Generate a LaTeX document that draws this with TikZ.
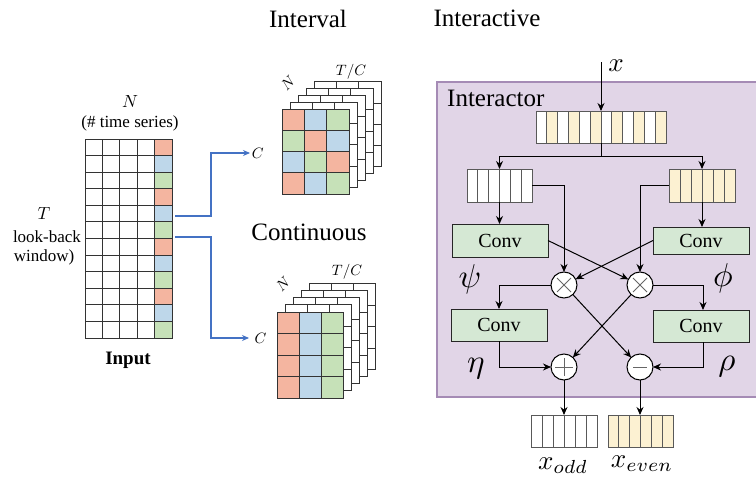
\documentclass[tikz,border=0pt]{standalone}
\usepackage{fontspec}
\setmainfont{Liberation Serif}
\usetikzlibrary{arrows.meta,calc}
\definecolor{cred}{HTML}{F4B5A0}
\definecolor{cblue}{HTML}{BED7EA}
\definecolor{cgreen}{HTML}{C6E1B8}
\definecolor{cyel}{HTML}{FCF1D2}
\definecolor{purpfill}{HTML}{E1D5E7}
\definecolor{purpline}{HTML}{A58BB5}
\definecolor{convfill}{HTML}{D5E8D4}
\definecolor{arrblue}{HTML}{4472C4}
\begin{document}
\begin{tikzpicture}[x=1pt,y=-1pt,
  cellline/.style={draw=black!80, line width=0.9pt},
  seqline/.style={draw=black!65, line width=1pt},
  arr/.style={draw=black, line width=1pt, -{Stealth[length=8pt,width=7pt]}},
  plainline/.style={draw=black, line width=1pt},
  bluearr/.style={draw=arrblue, line width=1.1pt, -{Stealth[length=7pt,width=6pt]}},
  conv/.style={draw=black!85, line width=1pt, fill=convfill, minimum width=96pt, font=\fontsize{20}{22}\selectfont, inner sep=0, outer sep=0},
  op/.style={circle, draw=black, line width=1pt, fill=white, minimum size=26pt, inner sep=0, outer sep=0},
  opsym/.style={draw=black!60, line width=0.9pt},
  hold/.style={inner sep=0, outer sep=0},
  title/.style={font=\fontsize{25}{28}\selectfont, inner sep=0},
  small/.style={font=\fontsize{17}{19}\selectfont, inner sep=0},
  mathlab/.style={font=\fontsize{10}{12}\selectfont, inner sep=0, scale=#1}
]
\useasboundingbox (0,0) rectangle (756,479);

% ---------------- Input grid ----------------
\foreach \c in {0,...,4} \foreach \r in {0,...,11}
  \draw[cellline, fill=white] (85+\c*17.4, 139+\r*16.58) rectangle ++(17.4,16.58);
\foreach \r/\col in {0/cred,1/cblue,2/cgreen,3/cred,4/cblue,5/cgreen,6/cred,7/cblue,8/cgreen,9/cred,10/cblue,11/cgreen}
  \draw[cellline, fill=\col] (85+4*17.4, 139+\r*16.58) rectangle ++(17.4,16.58);
\node[hold, minimum width=87pt, minimum height=199pt] (input) at (128.5,238.5) {};

\node[mathlab=1.75] (Nin) at (130,102) {$N$};
\node[small] (series) at (130,123) {(\# time series)};
\node[mathlab=1.75] (Tin) at (44,214) {$T$};
\node[small] (lookback) at (47,237) {look-back};
\node[small] (window) at (44,257) {window)};
\node[font=\fontsize{19}{22}\selectfont\bfseries, inner sep=0] (inputlab) at (128,360) {Input};

% ---------------- Interval stack ----------------
\node[title] (interval) at (308,19) {Interval};
\foreach \k in {4,3,2,1}
  \foreach \c in {0,1,2} \foreach \r in {0,...,3}
    \draw[cellline, fill=white] (282+\k*8+\c*22.33, 109-\k*6.8+\r*21.25) rectangle ++(22.33,21.25);
\foreach \r/\a/\b/\cc in {0/cred/cblue/cgreen,1/cgreen/cred/cblue,2/cblue/cgreen/cred,3/cred/cblue/cgreen} {
  \draw[cellline, fill=\a] (282, 109+\r*21.25) rectangle ++(22.33,21.25);
  \draw[cellline, fill=\b] (282+22.33, 109+\r*21.25) rectangle ++(22.33,21.25);
  \draw[cellline, fill=\cc] (282+44.67, 109+\r*21.25) rectangle ++(22.33,21.25);
}
\node[mathlab=1.5, rotate=45] (Nint) at (288,83) {$N$};
\node[mathlab=1.5] (TCint) at (351,72) {$T/C$};
\node[mathlab=1.5, anchor=west, inner sep=1pt] (Cint) at (250,153) {$C$};

% ---------------- Continuous stack ----------------
\node[title] (continuous) at (309,232) {Continuous};
\foreach \k in {4,3,2,1}
  \foreach \c in {0,1,2} \foreach \r in {0,...,3}
    \draw[cellline, fill=white] (277+\k*8.2+\c*22, 312-\k*7.1+\r*21.5) rectangle ++(22,21.5);
\foreach \r in {0,...,3} {
  \draw[cellline, fill=cred] (277, 312+\r*21.5) rectangle ++(22,21.5);
  \draw[cellline, fill=cblue] (299, 312+\r*21.5) rectangle ++(22,21.5);
  \draw[cellline, fill=cgreen] (321, 312+\r*21.5) rectangle ++(22,21.5);
}
\node[mathlab=1.5, rotate=45] (Ncont) at (283,284) {$N$};
\node[mathlab=1.5] (TCcont) at (347,272) {$T/C$};
\node[mathlab=1.5, anchor=west, inner sep=3.5pt] (Ccont) at (249,338) {$C$};

% blue connectors
\coordinate (out1) at (175,216);
\coordinate (out2) at (175,237);
\coordinate (bendx) at (211,0);
\draw[bluearr] (out1) -- (out1 -| bendx) |- (Cint.west);
\draw[bluearr] (out2) -- (out2 -| bendx) |- (Ccont.west);

% ---------------- Interactive ----------------
\node[title] (interactive) at (487,18) {Interactive};
\draw[draw=purpline, fill=purpfill, line width=1.2pt] (437,82) rectangle (760,397);
\node[title, anchor=west] (interactor) at (447,98) {Interactor};

% top sequence
\foreach \i in {0,...,11} {
  \ifodd\i \def\fc{cyel}\else\def\fc{white}\fi
  \draw[seqline, fill=\fc] (536+\i*10.833,111) rectangle ++(10.833,32);
}
\node[hold, minimum width=130pt, minimum height=32pt] (xin) at (601,127) {};
% split sequences
\foreach \i in {0,...,5} {
  \draw[seqline, fill=white] (467+\i*10.833,169) rectangle ++(10.833,33);
  \draw[seqline, fill=cyel] (669+\i*11,169) rectangle ++(11,33);
  \draw[seqline, fill=white] (531+\i*11,415) rectangle ++(11,32);
  \draw[seqline, fill=cyel] (608+\i*10.833,415) rectangle ++(10.833,32);
}
\node[hold, minimum width=65pt, minimum height=33pt] (L) at (499.5,185.5) {};
\node[hold, minimum width=66pt, minimum height=33pt] (R) at (702,185.5) {};
\node[hold, minimum width=66pt, minimum height=32pt] (oL) at (564,431) {};
\node[hold, minimum width=65pt, minimum height=32pt] (oR) at (640.5,431) {};

% conv blocks
\node[conv, minimum height=33pt] (c1) at (500,240.5) {Conv};
\node[conv, minimum height=27pt] (c2) at (701,240.5) {Conv};
\node[conv, minimum height=32pt] (c3) at (499,325) {Conv};
\node[conv, minimum height=32pt] (c4) at (701,326) {Conv};

% operators
\node[op] (m1) at (564,285) {};
\node[op] (m2) at (640,285) {};
\node[op] (a1) at (564,367) {};
\node[op] (s1) at (640,367) {};
\foreach \n in {m1,m2} {
  \draw[opsym] ($(\n)+(-7,-7)$) -- ($(\n)+(7,7)$);
  \draw[opsym] ($(\n)+(-7,7)$) -- ($(\n)+(7,-7)$);
}
\draw[opsym] ($(a1)+(-9,0)$) -- ($(a1)+(9,0)$);
\draw[opsym] ($(a1)+(0,-9)$) -- ($(a1)+(0,9)$);
\draw[opsym] ($(s1)+(-7,0)$) -- ($(s1)+(7,0)$);

% labels
\node[mathlab=2.7] (xlabel) at (616,66) {$x$};
\node[mathlab=3.3] (psi) at (470,279) {$\psi$};
\node[mathlab=3.3] (phi) at (723,278) {$\phi$};
\node[mathlab=3.3] (eta) at (476,369) {$\eta$};
\node[mathlab=3.3] (rho) at (727,367) {$\rho$};
\node[mathlab=2.7] (xodd) at (563,466) {$x_{odd}$};
\node[mathlab=2.7] (xeven) at (642,464) {$x_{even}$};

% connectors
\coordinate (xsrc) at (601,62);
\coordinate (split) at (601,156);
\draw[arr] (xsrc) -- (xin.north);
\draw[plainline] (xin.south) -- (split);
\draw[arr] (split) -| (L.north);
\draw[arr] (split) -| (R.north);
\draw[arr] (L.south) -- (L.south |- c1.north);
\draw[arr] (R.south) -- (R.south |- c2.north);
\draw[arr] (L.east) -| (m1.north);
\draw[arr] (R.west) -| (m2.north);
\draw[arr] (c1.east) -- (m2);
\draw[arr] (c2.west) -- (m1);
\draw[arr] (m1.west) -| (c3.north);
\draw[arr] (m2.east) -| ([xshift=2pt]c4.north);
\draw[arr] (m1) -- (s1);
\draw[arr] (m2) -- (a1);
\draw[arr] (c3.south) |- (a1.west);
\draw[arr] ([xshift=2pt]c4.south) |- (s1.east);
\draw[arr] (a1.south) -- (oL.north);
\draw[arr] (s1.south) -- (s1.south |- oR.north);
\end{tikzpicture}
\end{document}
